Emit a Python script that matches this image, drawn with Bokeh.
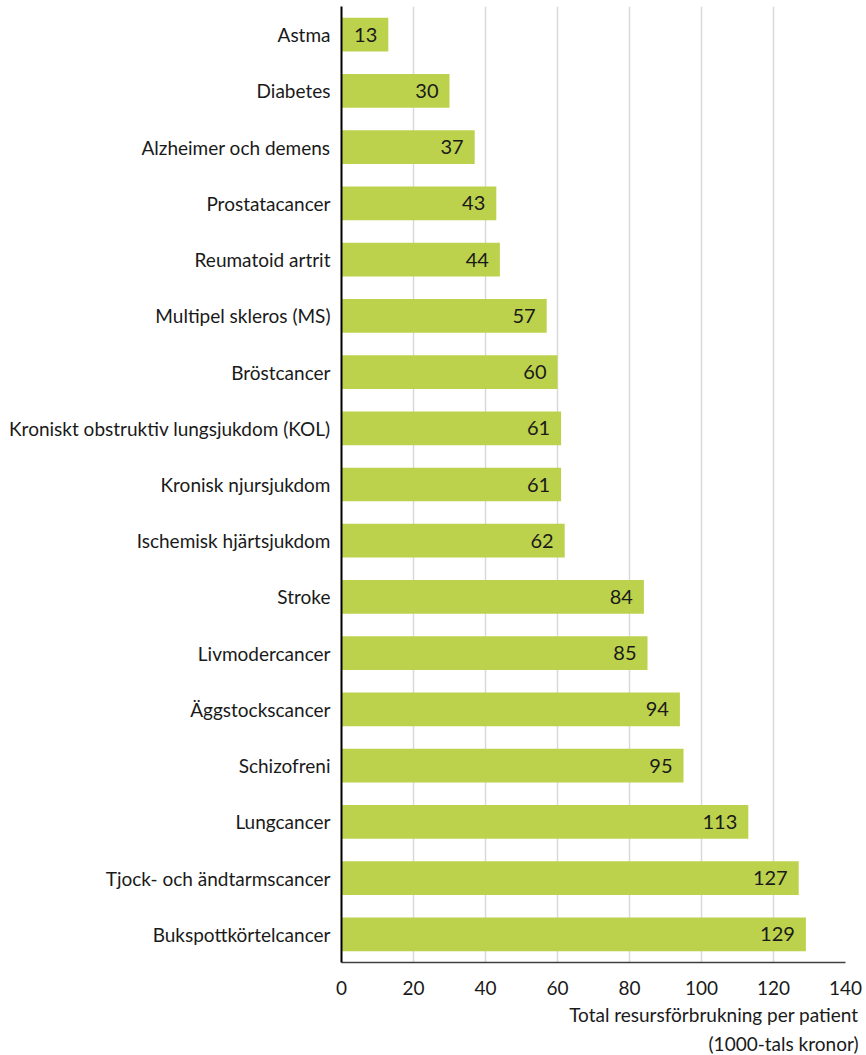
from bokeh.plotting import figure
from bokeh.models import ColumnDataSource, FactorRange, Range1d, Title, FixedTicker
from bokeh.core.properties import value
from bokeh.embed import file_html
from bokeh.resources import INLINE

categories = ["Astma", "Diabetes", "Alzheimer och demens", "Prostatacancer",
              "Reumatoid artrit", "Multipel skleros (MS)", "Bröstcancer",
              "Kroniskt obstruktiv lungsjukdom (KOL)", "Kronisk njursjukdom",
              "Ischemisk hjärtsjukdom", "Stroke", "Livmodercancer",
              "Äggstockscancer", "Schizofreni", "Lungcancer",
              "Tjock- och ändtarmscancer", "Bukspottkörtelcancer"]
values = [13, 30, 37, 43, 44, 57, 60, 61, 61, 62, 84, 85, 94, 95, 113, 127, 129]
x_ticks = [0, 20, 40, 60, 80, 100, 120, 140]
axis_title = ["Total resursförbrukning per patient", "(1000-tals kronor)"]

FONT = "Lato"
BAR = "#bdd24c"

src = ColumnDataSource(dict(cat=categories, val=values, lab=[str(v) for v in values]))

p = figure(width=866, height=1055, output_backend="svg", toolbar_location=None,
           y_range=FactorRange(factors=list(reversed(categories)), range_padding=0),
           x_range=Range1d(0, 140),
           min_border_left=341, min_border_right=21, min_border_top=6, min_border_bottom=93)
p.outline_line_color = None
p.background_fill_color = "white"
p.border_fill_color = "white"

p.hbar(y="cat", right="val", left=0, height=0.6, source=src, color=BAR, line_color=None)

p.text(x="val", y="cat", text="lab", source=src, x_offset=-11, text_align="right",
       text_baseline="middle", text_font=value(FONT), text_font_size="20px", text_color="#1a1a1a")

p.xgrid.ticker = FixedTicker(ticks=x_ticks)
p.xgrid.grid_line_color = "#d9d9d9"
p.xgrid.grid_line_width = 1.5
p.ygrid.grid_line_color = None

p.xaxis.ticker = FixedTicker(ticks=x_ticks)
p.xaxis.major_tick_line_color = None
p.xaxis.minor_tick_line_color = None
p.xaxis.axis_line_color = "#404040"
p.xaxis.axis_line_width = 1.5
p.xaxis.major_label_text_font = FONT
p.xaxis.major_label_text_font_size = "19px"
p.xaxis.major_label_text_color = "#1a1a1a"
p.xaxis.major_label_standoff = 12

p.yaxis.major_tick_line_color = None
p.yaxis.minor_tick_line_color = None
p.yaxis.axis_line_color = "black"
p.yaxis.axis_line_width = 2
p.yaxis.major_label_text_font = FONT
p.yaxis.major_label_text_font_size = "19px"
p.yaxis.major_label_text_color = "#1a1a1a"
p.yaxis.major_label_standoff = 5

for i, t in enumerate(axis_title):
    p.add_layout(Title(text=t, align="right", offset=-13, standoff=7 if i == 0 else 0,
                       text_font=FONT, text_font_size="19px", text_font_style="normal",
                       text_color="#1a1a1a"), "below")

open("out.html", "w").write(file_html(p, INLINE))
